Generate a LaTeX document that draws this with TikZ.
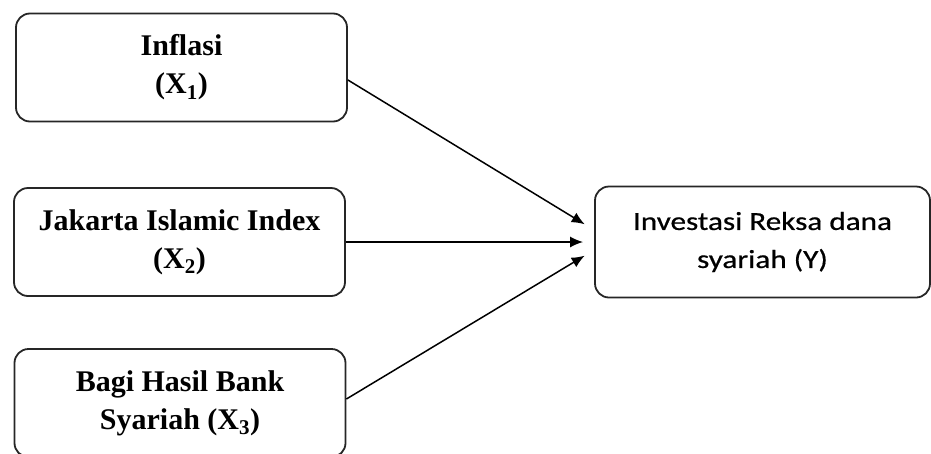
\documentclass[tikz,border=0pt]{standalone}
\usepackage{fontspec}
\setmainfont{Liberation Serif}
\newfontfamily\calfont[FakeStretch=1.2,FakeBold=0.6]{Carlito}
\usetikzlibrary{arrows.meta}

\tikzset{
  varbox/.style={draw=black!85, line width=1.8pt, rounded corners=14pt, minimum width=331pt, minimum height=108pt, align=center, font=\fontsize{30}{38}\selectfont\bfseries},
  ybox/.style={draw=black!85, line width=1.8pt, rounded corners=14pt, minimum width=335pt, minimum height=111pt, align=center, font=\calfont\fontsize{26}{38}\selectfont},
  panah/.style={-{Latex[length=13pt,width=11pt]}, line width=1.5pt, shorten >=11pt}
}

\begin{document}
\begin{tikzpicture}[x=1pt,y=1pt]
\useasboundingbox (0,0) rectangle (931,-453);

% --- Independent variables ---
\node (inflasi) [varbox] at (181.5,-67.5) {Inflasi\\(X\textsubscript{1})};
\node (jii) [varbox] at (179.5,-242) {Jakarta Islamic Index\\(X\textsubscript{2})};
\node (bagi_hasil) [varbox] at (180,-403) {Bagi Hasil Bank\\Syariah (X\textsubscript{3})};

% --- Dependent variable ---
\node (reksa_dana) [ybox] at (762.5,-242) {Investasi Reksa dana\\syariah (Y)};

% --- Arrows ---
\draw[panah] ([yshift=-12.5pt]inflasi.east) -- ([yshift=12pt]reksa_dana.west);
\draw[panah] (jii.east) -- (reksa_dana.west);
\draw[panah] ([yshift=4pt]bagi_hasil.east) -- ([yshift=-8pt]reksa_dana.west);

\end{tikzpicture}
\end{document}
